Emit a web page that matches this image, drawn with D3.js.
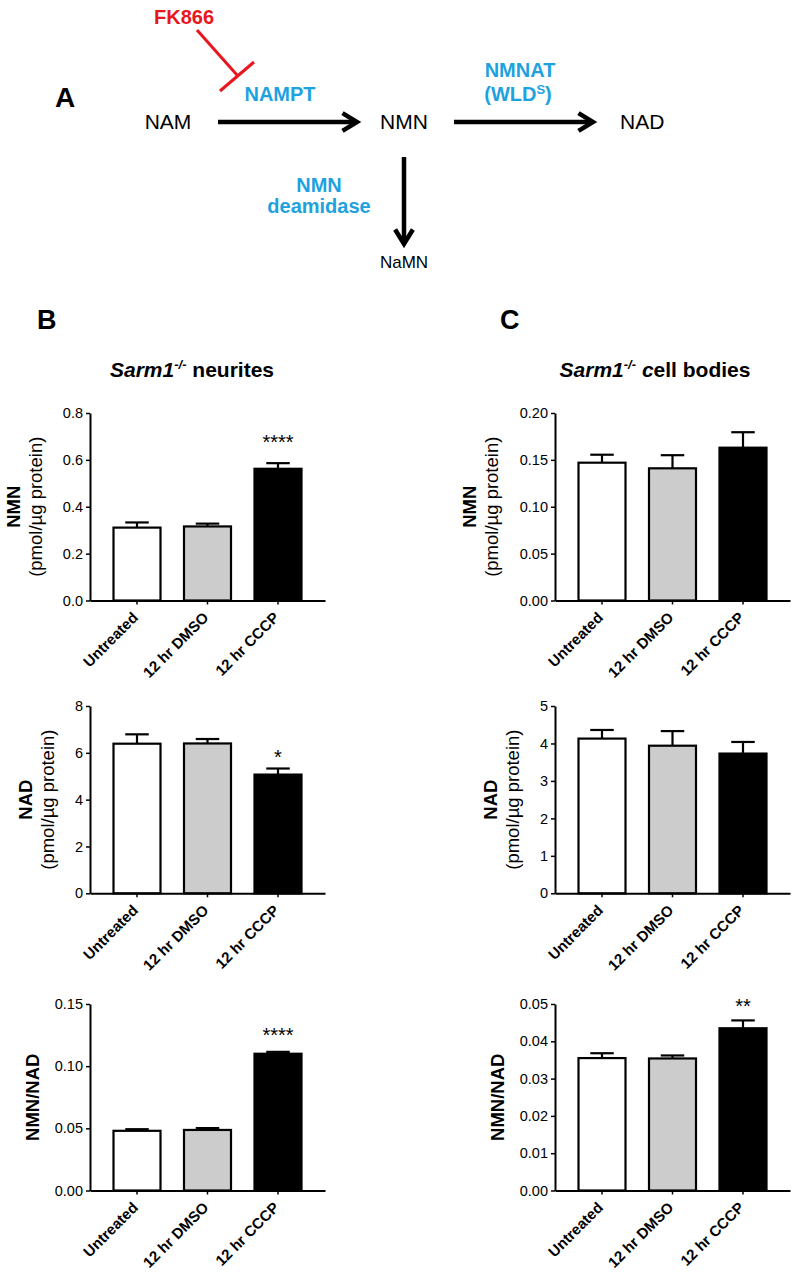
<!DOCTYPE html>
<html><head><meta charset="utf-8">
<script src="https://cdn.jsdelivr.net/npm/d3@7"></script>
<style>
html,body{margin:0;padding:0;background:#fff;}
svg{display:block;font-family:"Liberation Sans",Arial,Helvetica,sans-serif;}
</style></head>
<body><svg id="fig" width="800" height="1278"></svg>
<script>
// ---------- data ----------
const categories = ["Untreated", "12 hr DMSO", "12 hr CCCP"];

const nmnNeuritesMean = [0.311, 0.316, 0.562];
const nmnNeuritesSem  = [0.022, 0.012, 0.024];
const nmnNeuritesSig  = ["", "", "****"];
const nmnNeuritesSigLevel = 0.645;
const nmnNeuritesTicks = [0, 0.2, 0.4, 0.6, 0.8];

const nadNeuritesMean = [6.39, 6.40, 5.07];
const nadNeuritesSem  = [0.40, 0.19, 0.26];
const nadNeuritesSig  = ["", "", "*"];
const nadNeuritesSigLevel = 5.52;
const nadNeuritesTicks = [0, 2, 4, 6, 8];

const ratioNeuritesMean = [0.0480, 0.0487, 0.1100];
const ratioNeuritesSem  = [0.0013, 0.0015, 0.0015];
const ratioNeuritesSig  = ["", "", "****"];
const ratioNeuritesSigLevel = 0.1197;
const ratioNeuritesTicks = [0, 0.05, 0.10, 0.15];

const nmnBodiesMean = [0.147, 0.141, 0.163];
const nmnBodiesSem  = [0.0085, 0.014, 0.0165];
const nmnBodiesSig  = ["", "", ""];
const nmnBodiesTicks = [0, 0.05, 0.10, 0.15, 0.20];

const nadBodiesMean = [4.13, 3.94, 3.73];
const nadBodiesSem  = [0.23, 0.39, 0.31];
const nadBodiesSig  = ["", "", ""];
const nadBodiesTicks = [0, 1, 2, 3, 4, 5];

const ratioBodiesMean = [0.0355, 0.0354, 0.0435];
const ratioBodiesSem  = [0.0013, 0.0008, 0.0021];
const ratioBodiesSig  = ["", "", "**"];
const ratioBodiesSigLevel = 0.0475;
const ratioBodiesTicks = [0, 0.01, 0.02, 0.03, 0.04, 0.05];

// ---------- styles ----------
const barFills = ["#ffffff", "#cccccc", "#000000"];
const BLUE = "#1ea2df", RED = "#e8161e";

const svg = d3.select("#fig");

// ---------- panel A : pathway diagram ----------
const A = svg.append("g");
function txt(x, y, s, size, opts = {}) {
  return A.append("text").attr("x", x).attr("y", y).text(s)
    .attr("font-size", size).attr("text-anchor", opts.anchor || "middle")
    .attr("font-weight", opts.bold ? "bold" : "normal")
    .attr("fill", opts.fill || "#000");
}
function arrow(x1, y1, x2, y2) {
  const ang = Math.atan2(y2 - y1, x2 - x1);
  const L = 17, spread = 0.55;
  const p1 = [x2 - L * Math.cos(ang - spread), y2 - L * Math.sin(ang - spread)];
  const p2 = [x2 - L * Math.cos(ang + spread), y2 - L * Math.sin(ang + spread)];
  A.append("line").attr("x1", x1).attr("y1", y1)
    .attr("x2", x2 - 2 * Math.cos(ang)).attr("y2", y2 - 2 * Math.sin(ang))
    .attr("stroke", "#000").attr("stroke-width", 4.5);
  A.append("path").attr("d", `M${p1}L${x2},${y2}L${p2}`)
    .attr("fill", "none").attr("stroke", "#000").attr("stroke-width", 4.5)
    .attr("stroke-linejoin", "miter");
}
txt(55, 107, "A", 28, {bold: true, anchor: "start"});
txt(184, 24, "FK866", 20, {bold: true, fill: RED});
A.append("line").attr("x1", 197).attr("y1", 30).attr("x2", 237).attr("y2", 75)
  .attr("stroke", RED).attr("stroke-width", 3);
A.append("line").attr("x1", 220).attr("y1", 91).attr("x2", 254).attr("y2", 62)
  .attr("stroke", RED).attr("stroke-width", 3);
txt(280, 101, "NAMPT", 20, {bold: true, fill: BLUE});
txt(168, 129, "NAM", 21);
arrow(218, 122, 357, 122);
txt(404, 129, "NMN", 21);
arrow(454, 122, 593, 122);
txt(620, 129, "NAD", 21, {anchor: "start"});
txt(520, 77, "NMNAT", 20, {bold: true, fill: BLUE});
const wld = txt(518, 101, "(WLD", 20, {bold: true, fill: BLUE});
wld.append("tspan").attr("font-size", 13).attr("dy", -7).text("S");
wld.append("tspan").attr("dy", 7).text(")");
arrow(404, 157, 404, 244);
txt(319, 192, "NMN", 20, {bold: true, fill: BLUE});
txt(319, 213, "deamidase", 20, {bold: true, fill: BLUE});
txt(404, 268, "NaMN", 17);

// ---------- panel letters & titles ----------
svg.append("text").attr("x", 37).attr("y", 329).attr("font-size", 27)
  .attr("font-weight", "bold").text("B");
svg.append("text").attr("x", 500).attr("y", 329).attr("font-size", 27)
  .attr("font-weight", "bold").text("C");

function title(cx, y, italicTail, rest) {
  const t = svg.append("text").attr("x", cx).attr("y", y).attr("text-anchor", "middle")
    .attr("font-size", 21).attr("font-weight", "bold");
  t.append("tspan").attr("font-style", "italic").text("Sarm1");
  t.append("tspan").attr("font-style", "italic").attr("font-size", 13).attr("dy", -8).text("-/-");
  t.append("tspan").attr("dy", 8).attr("font-style", "italic").text(" " + italicTail);
  t.append("tspan").text(rest);
}
title(192, 377, "", "neurites");
title(655, 377, "c", "ell bodies");

// ---------- bar chart panels ----------
function panel(o) {
  const plotW = 235;
  const g = svg.append("g");
  const y = d3.scaleLinear().domain([0, d3.max(o.ticks)]).range([o.bottom, o.top]);
  const x = d3.scaleBand().domain(categories).range([o.x0, o.x0 + plotW])
    .paddingInner(1 / 3).paddingOuter(1 / 3);
  const bw = x.bandwidth();
  const rows = categories.map((c, i) => ({c, m: o.mean[i], s: o.sem[i], sig: o.sig[i], fill: barFills[i]}));

  // bars
  g.selectAll("rect.bar").data(rows).join("rect").attr("class", "bar")
    .attr("x", d => x(d.c)).attr("width", bw)
    .attr("y", d => y(d.m)).attr("height", d => y(0) - y(d.m))
    .attr("fill", d => d.fill).attr("stroke", "#000").attr("stroke-width", 2.2);
  // error bars (upper)
  g.selectAll("line.err").data(rows).join("line").attr("class", "err")
    .attr("x1", d => x(d.c) + bw / 2).attr("x2", d => x(d.c) + bw / 2)
    .attr("y1", d => y(d.m)).attr("y2", d => y(d.m + d.s))
    .attr("stroke", "#000").attr("stroke-width", 2.2);
  g.selectAll("line.cap").data(rows).join("line").attr("class", "cap")
    .attr("x1", d => x(d.c) + bw / 4).attr("x2", d => x(d.c) + 3 * bw / 4)
    .attr("y1", d => y(d.m + d.s)).attr("y2", d => y(d.m + d.s))
    .attr("stroke", "#000").attr("stroke-width", 2.2);
  // significance
  if (o.sigLevel !== undefined) {
    g.selectAll("text.sig").data(rows.filter(d => d.sig)).join("text").attr("class", "sig")
      .attr("x", d => x(d.c) + bw / 2).attr("y", y(o.sigLevel))
      .attr("text-anchor", "middle").attr("font-size", 20).text(d => d.sig);
  }

  // y axis
  const ya = g.append("g").attr("transform", `translate(${o.x0},0)`)
    .call(d3.axisLeft(y).tickValues(o.ticks).tickFormat(d3.format(o.fmt))
      .tickSize(4).tickSizeOuter(0).tickPadding(3));
  ya.select(".domain").attr("stroke-width", 2);
  ya.selectAll(".tick line").attr("stroke-width", 1.5);
  ya.selectAll("text").attr("font-size", 14.5).attr("font-family", null).attr("fill", "#000");
  // x axis
  const xa = g.append("g").attr("transform", `translate(0,${o.bottom})`)
    .call(d3.axisBottom(x).tickSize(4).tickSizeOuter(0));
  xa.select(".domain").attr("stroke-width", 2);
  xa.selectAll(".tick line").attr("stroke-width", 1.5);
  xa.selectAll("text").attr("font-size", 15).attr("font-weight", "bold")
    .attr("font-family", null).attr("fill", "#000")
    .attr("x", 0).attr("y", 0).attr("dy", null)
    .attr("text-anchor", "end").attr("transform", "translate(2,18) rotate(-45)");

  // y label, placed relative to the tick labels
  let minX = Infinity;
  ya.selectAll("text").each(function () { minX = Math.min(minX, this.getBBox().x); });
  const tickLeft = o.x0 + minX;
  const cy = (o.top + o.bottom) / 2;
  if (o.sub) {
    g.append("text").attr("transform", `translate(${tickLeft - 50},${cy}) rotate(-90)`)
      .attr("text-anchor", "middle").attr("dy", "0.36em").attr("font-size", 18.5)
      .attr("font-weight", "bold").text(o.label);
    g.append("text").attr("transform", `translate(${tickLeft - 28},${cy}) rotate(-90)`)
      .attr("text-anchor", "middle").attr("dy", "0.36em").attr("font-size", 18.5)
      .text(o.sub);
  } else {
    g.append("text").attr("transform", `translate(${tickLeft - 22},${cy}) rotate(-90)`)
      .attr("text-anchor", "middle").attr("dy", "0.36em").attr("font-size", 18.5)
      .attr("font-weight", "bold").text(o.label);
  }
}

const unit = "(pmol/\u00b5g protein)";
const colB = 90, colC = 555;
const rowTops = [413, 706, 1004], rowBottoms = [600.5, 893.3, 1190.5];

panel({x0: colB, top: rowTops[0], bottom: rowBottoms[0], ticks: nmnNeuritesTicks, fmt: ".1f",
  mean: nmnNeuritesMean, sem: nmnNeuritesSem, sig: nmnNeuritesSig, sigLevel: nmnNeuritesSigLevel,
  label: "NMN", sub: unit});
panel({x0: colB, top: rowTops[1], bottom: rowBottoms[1], ticks: nadNeuritesTicks, fmt: "d",
  mean: nadNeuritesMean, sem: nadNeuritesSem, sig: nadNeuritesSig, sigLevel: nadNeuritesSigLevel,
  label: "NAD", sub: unit});
panel({x0: colB, top: rowTops[2], bottom: rowBottoms[2], ticks: ratioNeuritesTicks, fmt: ".2f",
  mean: ratioNeuritesMean, sem: ratioNeuritesSem, sig: ratioNeuritesSig, sigLevel: ratioNeuritesSigLevel,
  label: "NMN/NAD"});
panel({x0: colC, top: rowTops[0], bottom: rowBottoms[0], ticks: nmnBodiesTicks, fmt: ".2f",
  mean: nmnBodiesMean, sem: nmnBodiesSem, sig: nmnBodiesSig,
  label: "NMN", sub: unit});
panel({x0: colC, top: rowTops[1], bottom: rowBottoms[1], ticks: nadBodiesTicks, fmt: "d",
  mean: nadBodiesMean, sem: nadBodiesSem, sig: nadBodiesSig,
  label: "NAD", sub: unit});
panel({x0: colC, top: rowTops[2], bottom: rowBottoms[2], ticks: ratioBodiesTicks, fmt: ".2f",
  mean: ratioBodiesMean, sem: ratioBodiesSem, sig: ratioBodiesSig, sigLevel: ratioBodiesSigLevel,
  label: "NMN/NAD"});
</script></body></html>
